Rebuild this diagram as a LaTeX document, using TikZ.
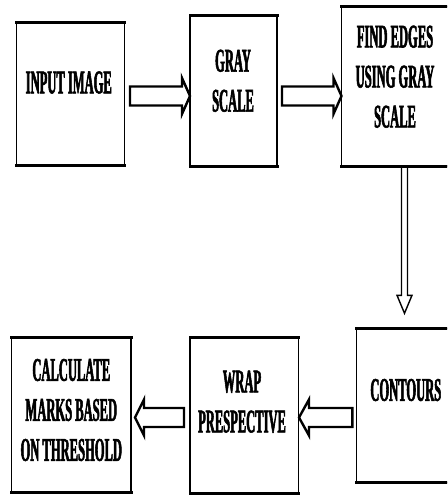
\documentclass[tikz,border=0pt]{standalone}
\usepackage{fontspec}
\newfontfamily\rotulo[FakeStretch=0.38,FakeBold=1.6]{Liberation Serif}
\usetikzlibrary{calc}

\tikzset{
  caja/.style={draw, line width=1.3pt, inner sep=0pt, outer sep=0pt,
    append after command={
      (\tikzlastnode.north west) edge[line width=3pt, line cap=rect] (\tikzlastnode.north east)
      (\tikzlastnode.south west) edge[line width=3pt, line cap=rect] (\tikzlastnode.south east)}},
  texto/.style={font=\rotulo\bfseries\fontsize{33}{40}\selectfont, align=center, inner sep=0pt},
  % flecha hueca: medio ancho del cuerpo / medio ancho de la punta / largo de la punta
  flecha/.style args={#1/#2/#3}{to path={
    (\tikztostart) coordinate (cola)
    (\tikztotarget) coordinate (punta)
    ($(punta)!#3!(cola)$) coordinate (base)
    ($(cola)!#1!90:(punta)$) -- ($(base)!#1!90:(punta)$) -- ($(base)!#2!90:(punta)$)
    -- (punta)
    -- ($(base)!#2!-90:(punta)$) -- ($(base)!#1!-90:(punta)$) -- ($(cola)!#1!-90:(punta)$) -- cycle}}
}

\begin{document}
\begin{tikzpicture}[x=1pt,y=-1pt]
\useasboundingbox (0,0) rectangle (447,495);
\clip (0,0) rectangle (447,495);

% Cajas
\node[caja, minimum width=108pt, minimum height=142pt] (input) at (70.5,94) {};
\node[caja, minimum width=87pt, minimum height=151pt] (gris) at (233.5,91.2) {};
\node[caja, minimum width=126pt, minimum height=159.3pt] (bordes) at (404.5,86.4) {};
\node[caja, minimum width=96.4pt, minimum height=154.4pt] (contornos) at (404.5,405.5) {};
\node[caja, minimum width=108.5pt, minimum height=156pt] (perspectiva) at (244.25,415.7) {};
\node[caja, minimum width=119.2pt, minimum height=154.6pt] (calculo) at (71.4,415) {};

% Textos
\node[texto] (inputT) at (68.8,82.5) {INPUT IMAGE};
\node[texto] (grisT) at (233,80.8) {GRAY\\SCALE};
\node[texto] (bordesT) at (395,76.7) {FIND EDGES\\USING GRAY\\SCALE};
\node[texto] (contornosT) at (405.8,390) {CONTOURS};
\node[texto] (perspectivaT) at (242,401.7) {WRAP\\PRESPECTIVE};
\node[texto] (calculoT) at (71.3,410) {CALCULATE\\MARKS BASED\\ON THRESHOLD};

% Flechas
\draw[flecha=9.5pt/18pt/8pt, line width=2.4pt] ($(input.east)+(5.5,2)$) to ($(gris.west |- input.east)+(0,2)$);
\draw[flecha=9.5pt/18pt/8pt, line width=2.4pt] ($(gris.east |- input.east)+(5,2)$) to ($(bordes.west |- input.east)+(0,2)$);
\draw[flecha=3pt/7.5pt/18pt, line width=1.4pt] (bordes.south) to ($(contornos.north)+(0,-15)$);
\draw[flecha=9.5pt/18pt/10pt, line width=2.4pt] ($(contornos.west)+(-4,12)$) to ($(perspectiva.east |- contornos.west)+(0.5,12)$);
\draw[flecha=9.5pt/18pt/9pt, line width=2.4pt] ($(perspectiva.west |- contornos.west)+(-6,12)$) to ($(calculo.east |- contornos.west)+(4,12)$);

\end{tikzpicture}
\end{document}
